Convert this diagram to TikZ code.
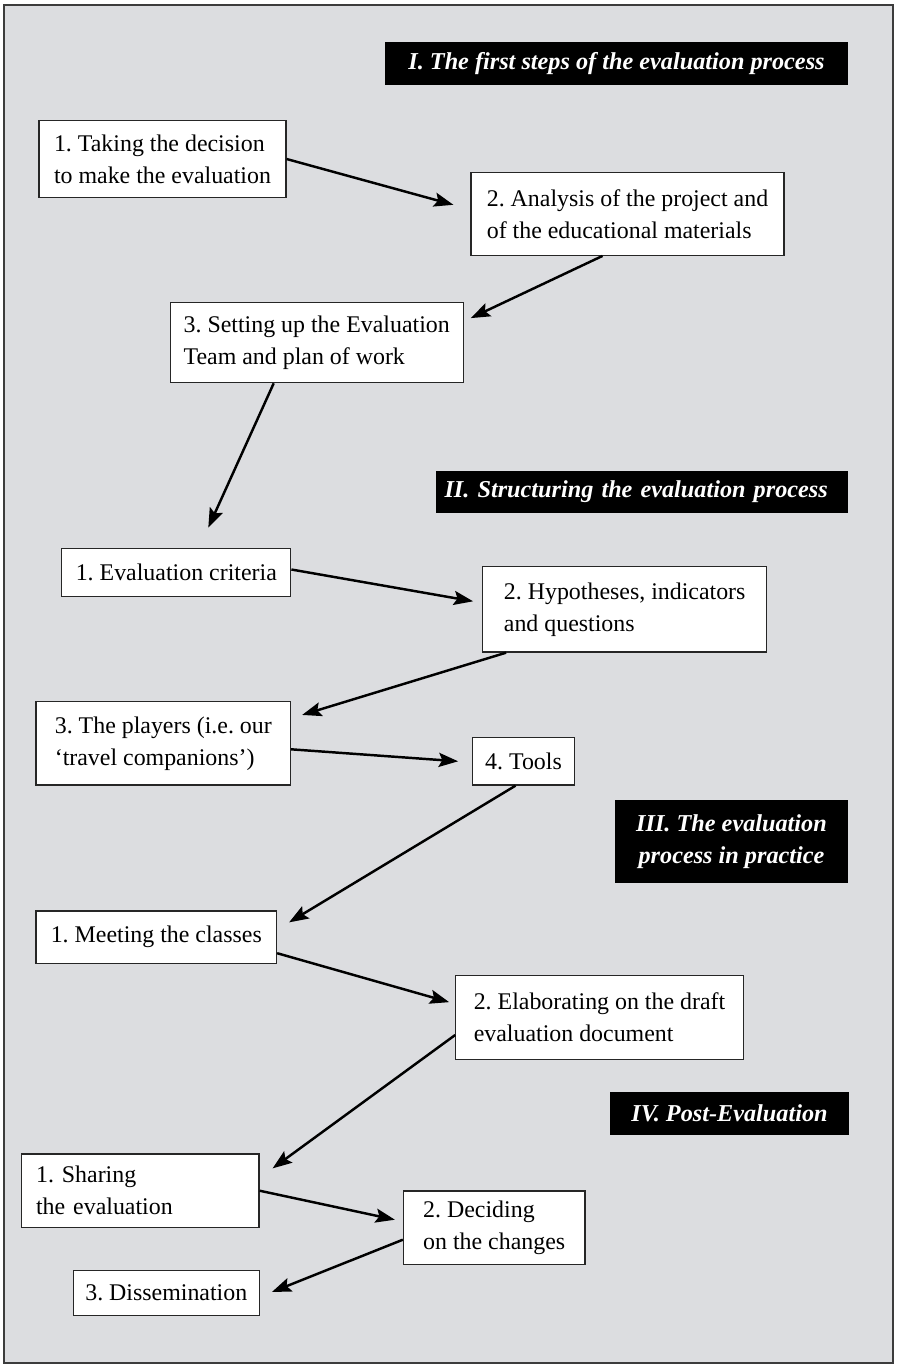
\documentclass[tikz,border=0pt]{standalone}
\usepackage{fontspec}
\setmainfont{Liberation Serif}
\frenchspacing
\usetikzlibrary{arrows.meta,calc}
\definecolor{cPanel}{RGB}{220,221,224}
\definecolor{cFrame}{RGB}{60,60,60}
\tikzset{
  stepnode/.style={rectangle,draw=black!85,line width=0.7pt,fill=white,
                   align=left,inner sep=2pt,
                   font=\fontsize{13.6}{18.2}\selectfont},
  headnode/.style={rectangle,fill=black,text=white,align=center,
                   inner sep=2pt,
                   font=\fontsize{13.8}{18.2}\selectfont\bfseries\itshape},
  arr/.style={-{Stealth[length=11pt,width=8pt,inset=2pt]},
              line width=1.4pt}
}
\begin{document}
\begin{tikzpicture}[x=0.02cm,y=-0.02cm]
  \useasboundingbox (0,0) rectangle (897,1367);
  \draw[cFrame,line width=1.1pt,fill=cPanel] (4,5) rectangle (893,1363);

  % Section headers
  \node[headnode,minimum width=9.26cm,minimum height=0.86cm] (h1) at (616.5,63.5)
      {I. The first steps of the evaluation process};
  \node[headnode,text width=7.9cm,align=left,minimum width=8.24cm,minimum height=0.85cm] (h2) at (642,492)
      {II. Structuring the evaluation process};
  \node[headnode,minimum width=4.66cm,minimum height=1.67cm] (h3) at (731.5,841.7)
      {III. The evaluation\\process in practice};
  \node[headnode,minimum width=4.78cm,minimum height=0.86cm] (h4) at (729.5,1113.5)
      {IV. Post-Evaluation};

  % I. first steps
  \node[stepnode,minimum width=4.94cm,minimum height=1.53cm] (a1) at (162.5,159)
      {1. Taking the decision\\to make the evaluation};
  \node[stepnode,minimum width=6.26cm,minimum height=1.66cm] (a2) at (627.5,213.8)
      {2. Analysis of the project and\\of the educational materials};
  \node[stepnode,minimum width=5.86cm,minimum height=1.60cm] (a3) at (316.7,342.7)
      {3. Setting up the Evaluation\\Team and plan of work};

  % II. structuring
  \node[stepnode,minimum width=4.58cm,minimum height=0.97cm] (b1) at (176.3,572.5)
      {1. Evaluation criteria};
  \node[stepnode,minimum width=5.68cm,minimum height=1.71cm] (b2) at (624.7,609.3)
      {2. Hypotheses, indicators\\and questions};
  \node[stepnode,minimum width=5.09cm,minimum height=1.67cm] (b3) at (163.3,743.3)
      {3. The players (i.e. our\\`travel companions')};
  \node[stepnode,minimum width=2.03cm,minimum height=0.95cm] (b4) at (523.5,761.3)
      {4. Tools};

  % III. in practice
  \node[stepnode,minimum width=4.81cm,minimum height=1.05cm] (c1) at (156.3,937.2)
      {1. Meeting the classes};
  \node[stepnode,minimum width=5.75cm,minimum height=1.67cm] (c2) at (599.5,1017.5)
      {2. Elaborating on the draft\\evaluation document};

  % IV. post-evaluation
  \node[stepnode,text width=4.17cm,minimum width=4.75cm,minimum height=1.47cm] (d1) at (140.3,1190.7)
      {1. Sharing\\the evaluation};
  \node[stepnode,minimum width=3.63cm,minimum height=1.47cm] (d2) at (494.2,1227.7)
      {2. Deciding\\on the changes};
  \node[stepnode,minimum width=3.72cm,minimum height=0.89cm] (d3) at (166.3,1293)
      {3. Dissemination};

  % Connectors
  \draw[arr] (a1.east) -- ($(a2.west)+(-17,-9)$);
  \draw[arr] ($(a2.south)+(-25,0)$) -- ($(a3.north east)+(7,16)$);
  \draw[arr] ($(a3.south)+(-43,0)$) -- ($(b1.north)+(32,-20)$);
  \draw[arr] ($(b1.east)+(0,-3)$) -- ($(b2.west)+(-9,-8)$);
  \draw[arr] ($(b2.south west)+(24,0)$) -- ($(b3.north east)+(11,14)$);
  \draw[arr] ($(b3.east)+(0,6)$) -- ($(b4.west)+(-14,0)$);
  \draw[arr] ($(b4.south)+(-8,0)$) -- ($(c1.north east)+(12,12)$);
  \draw[arr] ($(c1.east)+(0,16)$) -- ($(c2.north west)+(-6,27)$);
  \draw[arr] ($(c2.west)+(0,17.5)$) -- ($(d1.north east)+(13,15)$);
  \draw[arr] (d1.east) -- ($(d2.west)+(-8,-8)$);
  \draw[arr] ($(d2.west)+(0,12)$) -- ($(d3.east)+(12,-1)$);

\end{tikzpicture}
\end{document}
